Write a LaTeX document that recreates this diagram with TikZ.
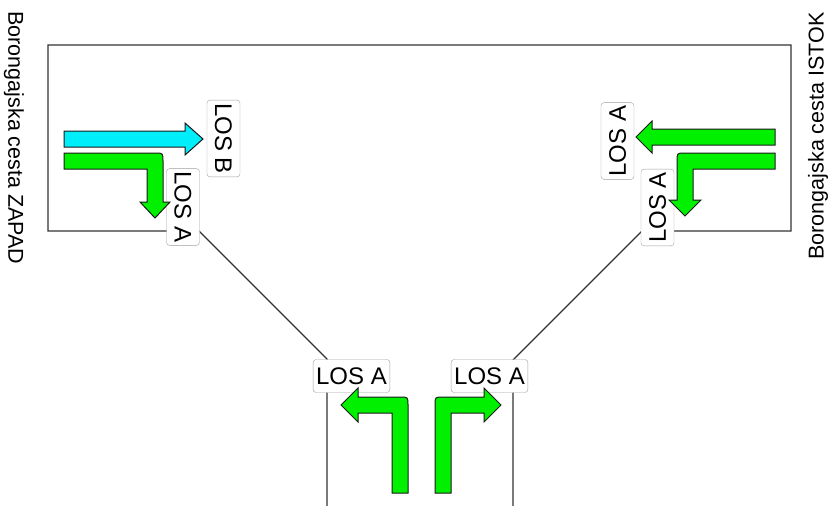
\documentclass[tikz,border=0pt]{standalone}
\usepackage{fontspec}
\setmainfont{Liberation Sans}
\usepackage{xcolor}
\usetikzlibrary{positioning}
\definecolor{lanegreen}{RGB}{0,240,0}
\definecolor{lanecyan}{RGB}{0,238,250}
\definecolor{roadline}{RGB}{50,50,50}
\definecolor{boxline}{RGB}{160,160,160}

\begin{document}
\begin{tikzpicture}[x=1pt,y=-1pt,line join=miter]
  \tikzstyle{los}=[draw=boxline,fill=white,rounded corners=3pt,inner xsep=3pt,minimum height=33pt,font=\fontsize{24}{27}\selectfont]
  \tikzstyle{road}=[font=\fontsize{21.5}{24}\selectfont]
  \tikzstyle{lane}=[draw=black!90,line width=1pt]
  \useasboundingbox (0,0) rectangle (830,506);
  % road outline
  \draw[roadline,line width=1.2pt] (327,506) -- (327,359) -- (199,231) -- (48,231) -- (48,45)
    -- (791,45) -- (791,231) -- (642,231) -- (513,360) -- (513,506);
  % approach names
  \node[road,rotate=-90] (zapad) at (14,138) {Borongajska cesta ZAPAD};
  \node[road,rotate=90] (istok) at (818,136) {Borongajska cesta ISTOK};
  % level of service labels
  \node[los,rotate=-90] (wB) at (223.5,138.5) {LOS B};
  \node[los,rotate=-90] (wA) at (183,207) {LOS A};
  \node[los,rotate=90] (eA1) at (617.5,141) {LOS A};
  \node[los,rotate=90] (eA2) at (657.5,207.5) {LOS A};
  \node[los] (sA1) at (351.5,376) {LOS A};
  \node[los] (sA2) at (489.5,376) {LOS A};
  % lane arrows, west
  \filldraw[lane,fill=lanecyan] (64,131) -- (185,131) -- (185,123) -- (203,139) -- (185,155)
    -- (185,147) -- (64,147) -- cycle;
  \filldraw[lane,fill=lanegreen] (64,153) -- (155,153) .. controls (163,153) .. (163,161)
    -- (163,202) -- (170,202) -- (155,218) -- (140,202) -- (147,202) -- (147,169) -- (64,169) -- cycle;
  % lane arrows, east
  \filldraw[lane,fill=lanegreen] (775,129) -- (652,129) -- (652,121) -- (636,137) -- (652,153)
    -- (652,145) -- (775,145) -- cycle;
  \filldraw[lane,fill=lanegreen] (775,153) -- (685,153) .. controls (677,153) .. (677,161)
    -- (677,200) -- (669,200) -- (685,216) -- (701,200) -- (693,200) -- (693,169) -- (775,169) -- cycle;
  % lane arrows, south
  \filldraw[lane,fill=lanegreen] (392,493) -- (392,413) -- (358,413) -- (358,422) -- (341,405)
    -- (358,388) -- (358,397) -- (400,397) .. controls (408,397) .. (408,405) -- (408,493) -- cycle;
  \filldraw[lane,fill=lanegreen] (451,493) -- (451,413) -- (484,413) -- (484,422) -- (501,405)
    -- (484,388) -- (484,397) -- (443,397) .. controls (435,397) .. (435,405) -- (435,493) -- cycle;
\end{tikzpicture}
\end{document}
